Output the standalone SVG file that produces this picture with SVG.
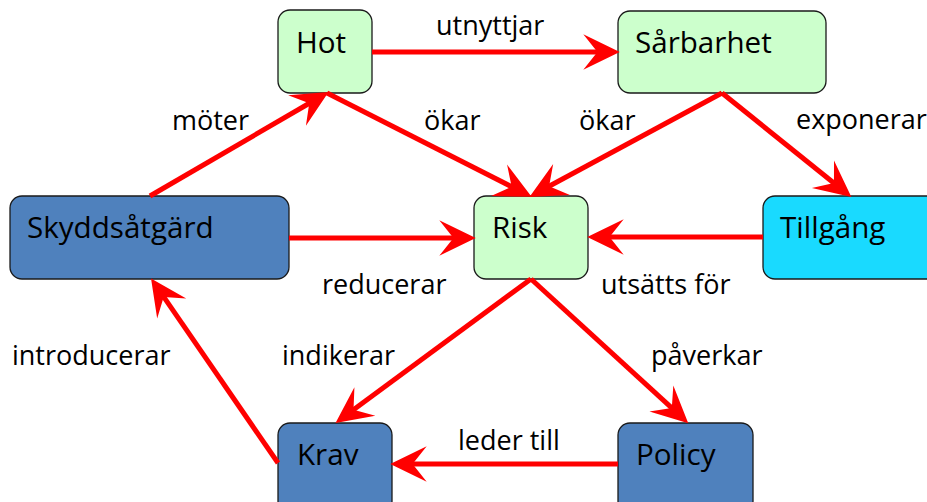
<svg xmlns="http://www.w3.org/2000/svg" width="927" height="502" viewBox="0 0 927 502">
<style>
.n rect{stroke:#1a1a1a;stroke-width:1.3}
.g rect{fill:#CCFFCC}
.b rect{fill:#4F81BD}
.c rect{fill:#19DAFF}
.n text{font-family:"Open Sans","Liberation Sans",sans-serif;font-size:29.6px;fill:#000}
.lbl{font-family:"Open Sans","Liberation Sans",sans-serif;font-size:27px;fill:#000}
#connectors line{stroke:#FF0000;stroke-width:5;marker-end:url(#ah)}
</style>
<defs>
<marker id="ah" markerUnits="userSpaceOnUse" orient="auto" refX="0" refY="0" markerWidth="40" markerHeight="40" viewBox="-22 -16 34 32" overflow="visible">
<path d="M10,0 L-21,-15 L-9,0 L-21,15 Z" fill="#FF0000"/>
</marker>
</defs>
<rect width="927" height="502" fill="#fff"/>
<g id="hot" class="n g"><rect x="278" y="10" width="94" height="83" rx="12"/><text x="296" y="53">Hot</text></g>
<g id="sarbarhet" class="n g"><rect x="618" y="11" width="208" height="82" rx="12"/><text x="635" y="53">Sårbarhet</text></g>
<g id="skyddsatgard" class="n b"><rect x="10" y="196" width="279" height="83" rx="12"/><text x="27" y="238">Skyddsåtgärd</text></g>
<g id="risk" class="n g"><rect x="474" y="196" width="114" height="83" rx="12"/><text x="492" y="238">Risk</text></g>
<g id="tillgang" class="n c"><rect x="763" y="196" width="180" height="83" rx="12"/><text x="780" y="238">Tillgång</text></g>
<g id="krav" class="n b"><rect x="278" y="423" width="114" height="90" rx="12"/><text x="297" y="465">Krav</text></g>
<g id="policy" class="n b"><rect x="618" y="423" width="135" height="90" rx="12"/><text x="636" y="465">Policy</text></g>
<g id="connectors">
<line x1="372" y1="52" x2="608" y2="52"/>
<line x1="150" y1="196" x2="318.4" y2="98"/>
<line x1="327" y1="93" x2="521.1" y2="191.5"/>
<line x1="722" y1="93" x2="539.8" y2="191.3"/>
<line x1="722" y1="93" x2="842.2" y2="189.7"/>
<line x1="763" y1="237" x2="599" y2="237"/>
<line x1="289" y1="238" x2="464" y2="238"/>
<line x1="531" y1="279" x2="345" y2="416.1"/>
<line x1="531" y1="279" x2="679.6" y2="415.2"/>
<line x1="618" y1="464" x2="402" y2="464"/>
<line x1="278" y1="463" x2="157.7" y2="288.2"/>
</g>
<g id="labels">
<text class="lbl" x="436" y="35">utnyttjar</text>
<text class="lbl" x="172" y="130">möter</text>
<text class="lbl" x="424" y="130">ökar</text>
<text class="lbl" x="579" y="130">ökar</text>
<text class="lbl" x="796" y="129">exponerar</text>
<text class="lbl" x="322" y="294">reducerar</text>
<text class="lbl" x="601" y="294">utsätts för</text>
<text class="lbl" x="12" y="365">introducerar</text>
<text class="lbl" x="282" y="365">indikerar</text>
<text class="lbl" x="651" y="365">påverkar</text>
<text class="lbl" x="458" y="450">leder till</text>
</g>
</svg>
